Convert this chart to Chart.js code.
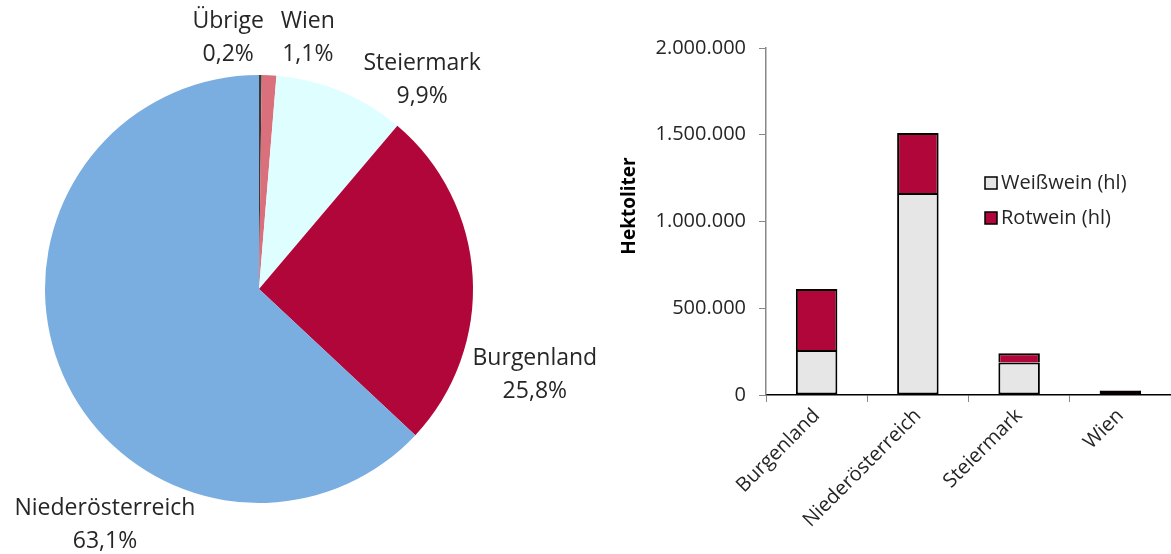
<!DOCTYPE html>
<html><head><meta charset="utf-8">
<script src="https://cdn.jsdelivr.net/npm/chart.js@4.4.1/dist/chart.umd.min.js"></script>
<style>
html,body{margin:0;padding:0;background:#fff;width:1171px;height:554px;overflow:hidden;}
#pieWrap{position:absolute;left:0;top:0;width:600px;height:554px;}
#barWrap{position:absolute;left:600px;top:0;width:571px;height:554px;}
</style></head><body>
<div id="pieWrap"><canvas id="pie" width="600" height="554"></canvas></div>
<div id="barWrap"><canvas id="bar" width="571" height="554"></canvas></div>
<script>
// ---- data ----
const pieLabels = ['Übrige', 'Wien', 'Steiermark', 'Burgenland', 'Niederösterreich'];
const pieShares = [0.2, 1.1, 9.9, 25.8, 63.1];
const regions = ['Burgenland', 'Niederösterreich', 'Steiermark', 'Wien'];
const weisswein = [259000, 1164000, 188000, 25000];
const rotwein = [352000, 346000, 52000, 3000];
const yTickValues = [0, 500000, 1000000, 1500000, 2000000];
const seriesNames = ['Weißwein (hl)', 'Rotwein (hl)'];
const yAxisTitle = 'Hektoliter';

// ---- styles ----
const FONT = "'Open Sans', 'DejaVu Sans', sans-serif";
const pieColors = ['#3a3a3a', '#d9707b', '#dffeff', '#b0063a', '#7aaee0'];
const barColors = ['#e6e6e6', '#b0063a'];
const TEXT = '#262626';
// label placement around pie: angle (deg clockwise from top), distance as factor of radius
const pieLabelPlacement = [
  {a: -7, d: 1.18}, {a: 11, d: 1.195}, {a: 38, d: 1.238}, {a: 107.3, d: 1.35}, {a: 213.1, d: 1.318}
];

const fmt = v => String(Math.round(v)).replace(/\B(?=(\d{3})+(?!\d))/g, '.');
const fmtPct = v => v.toFixed(1).replace('.', ',') + '%';

const pieLabelPlugin = {
  id: 'pieLabels',
  afterDraw(chart) {
    const ctx = chart.ctx;
    const meta = chart.getDatasetMeta(0);
    ctx.save();
    ctx.font = "23px " + FONT;
    ctx.fillStyle = TEXT;
    ctx.textAlign = 'center';
    ctx.textBaseline = 'middle';
    meta.data.forEach((arc, i) => {
      const p = arc.getProps(['x', 'y', 'outerRadius'], true);
      const pl = pieLabelPlacement[i];
      const ang = pl.a * Math.PI / 180;
      const cx = p.x + Math.sin(ang) * p.outerRadius * pl.d;
      const cy = p.y - Math.cos(ang) * p.outerRadius * pl.d;
      ctx.fillText(chart.data.labels[i], cx, cy - 16.5);
      ctx.fillText(fmtPct(chart.data.datasets[0].data[i]), cx, cy + 16.5);
    });
    ctx.restore();
  }
};

new Chart(document.getElementById('pie'), {
  type: 'pie',
  data: {
    labels: pieLabels,
    datasets: [{ data: pieShares, backgroundColor: pieColors, borderWidth: 0 }]
  },
  options: {
    responsive: false,
    animation: false,
    devicePixelRatio: 1,
    layout: { padding: { left: 45, top: 75, right: 127, bottom: 51 } },
    plugins: { legend: { display: false }, tooltip: { enabled: false } }
  },
  plugins: [pieLabelPlugin]
});

const legendPlugin = {
  id: 'customLegend',
  afterDraw(chart) {
    const ctx = chart.ctx;
    const ca = chart.chartArea;
    const x0 = ca.left + 219, y0 = ca.top + 135, gap = 35, box = 12;
    ctx.save();
    ctx.font = "20px " + FONT;
    ctx.textBaseline = 'middle';
    ctx.textAlign = 'left';
    chart.data.datasets.forEach((ds, i) => {
      const y = y0 + i * gap;
      ctx.fillStyle = ds.backgroundColor;
      ctx.fillRect(x0, y - box / 2, box, box);
      ctx.strokeStyle = '#000';
      ctx.lineWidth = 1.5;
      ctx.strokeRect(x0, y - box / 2, box, box);
      ctx.fillStyle = TEXT;
      ctx.fillText(ds.label, x0 + box + 4, y);
    });
    // y-axis title
    ctx.save();
    ctx.translate(30, ca.top + 158);
    ctx.rotate(-Math.PI / 2);
    ctx.font = "bold 19px " + FONT;
    ctx.fillStyle = '#000';
    ctx.textAlign = 'center';
    ctx.fillText(yAxisTitle, 0, 0);
    ctx.restore();
    ctx.restore();
  }
};

new Chart(document.getElementById('bar'), {
  type: 'bar',
  data: {
    labels: regions,
    datasets: [
      { label: seriesNames[0], data: weisswein, backgroundColor: barColors[0], borderColor: '#000', borderWidth: 2, borderSkipped: false },
      { label: seriesNames[1], data: rotwein, backgroundColor: barColors[1], borderColor: '#000', borderWidth: 2, borderSkipped: 'start' }
    ]
  },
  options: {
    responsive: false,
    animation: false,
    devicePixelRatio: 1,
    datasets: { bar: { categoryPercentage: 1, barPercentage: 0.41 } },
    layout: { padding: { top: 48, right: 0, bottom: 0, left: 0 } },
    plugins: { legend: { display: false }, tooltip: { enabled: false } },
    scales: {
      x: {
        stacked: true,
        grid: { display: true, drawOnChartArea: false, drawTicks: true, tickLength: 7, color: '#888', offset: true },
        border: { color: '#000', width: 1.5 },
        ticks: { minRotation: 45, maxRotation: 45, autoSkip: false, color: TEXT, padding: 2, font: { family: FONT, size: 20 } },
        afterFit(s) { s.height = 159; }
      },
      y: {
        stacked: true,
        min: 0, max: 2000000,
        afterBuildTicks(s) { s.ticks = yTickValues.map(v => ({ value: v })); },
        grid: { display: true, drawOnChartArea: false, drawTicks: true, tickLength: 7, color: '#888' },
        border: { color: '#888', width: 1.5 },
        ticks: { color: TEXT, padding: 13, font: { family: FONT, size: 20 }, callback: v => fmt(v) },
        title: { display: false },
        afterFit(s) { s.width = 166; }
      }
    }
  },
  plugins: [legendPlugin]
});
</script>
</body></html>
